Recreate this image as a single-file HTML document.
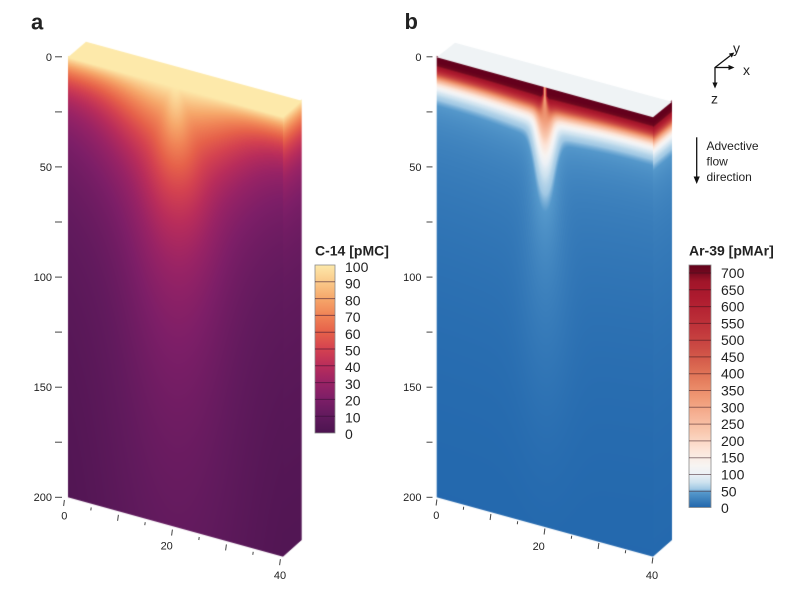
<!DOCTYPE html>
<html><head><meta charset="utf-8">
<style>
html,body{margin:0;padding:0;background:#fff;}
#wrap{position:relative;width:800px;height:600px;overflow:hidden;background:#fff;}
#wrap svg,#wrap canvas{position:absolute;left:0;top:0;}
text{font-family:"Liberation Sans",Arial,sans-serif;fill:#222;}
</style></head><body>
<div id="wrap">
<svg width="800" height="600" viewBox="0 0 800 600">
<defs>
<linearGradient id="ga" x1="0" y1="0" x2="0" y2="1">
<stop offset="0" stop-color="#fde9aa"/><stop offset="0.05" stop-color="#f0844f"/><stop offset="0.12" stop-color="#9b2364"/><stop offset="0.35" stop-color="#5e1a5c"/><stop offset="1" stop-color="#4c1551"/>
</linearGradient>
<linearGradient id="gb" x1="0" y1="0" x2="0" y2="1">
<stop offset="0" stop-color="#6e0620"/><stop offset="0.03" stop-color="#d6604d"/><stop offset="0.07" stop-color="#f7f4f2"/><stop offset="0.1" stop-color="#6fa8d3"/><stop offset="0.35" stop-color="#3878b8"/><stop offset="1" stop-color="#2a6aaf"/>
</linearGradient>
<linearGradient id="cbA" x1="0" y1="0" x2="0" y2="1">
<stop offset="0" stop-color="rgb(253,233,170)"/><stop offset="0.1" stop-color="rgb(250,201,138)"/><stop offset="0.2" stop-color="rgb(246,167,106)"/><stop offset="0.3" stop-color="rgb(240,131,86)"/><stop offset="0.4" stop-color="rgb(230,97,74)"/><stop offset="0.5" stop-color="rgb(212,66,80)"/><stop offset="0.6" stop-color="rgb(185,45,91)"/><stop offset="0.7" stop-color="rgb(153,35,101)"/><stop offset="0.8" stop-color="rgb(124,30,103)"/><stop offset="0.9" stop-color="rgb(97,26,93)"/><stop offset="1" stop-color="rgb(76,20,80)"/>
</linearGradient>
<linearGradient id="cbB" x1="0" y1="0" x2="0" y2="1">
<stop offset="0" stop-color="rgb(100,2,28)"/><stop offset="0.026" stop-color="rgb(110,8,30)"/><stop offset="0.0674" stop-color="rgb(160,21,41)"/><stop offset="0.1365" stop-color="rgb(174,27,47)"/><stop offset="0.2056" stop-color="rgb(184,41,53)"/><stop offset="0.2747" stop-color="rgb(194,56,60)"/><stop offset="0.3437" stop-color="rgb(204,76,68)"/><stop offset="0.4128" stop-color="rgb(217,101,79)"/><stop offset="0.4819" stop-color="rgb(230,128,95)"/><stop offset="0.551" stop-color="rgb(240,154,118)"/><stop offset="0.62" stop-color="rgb(246,178,149)"/><stop offset="0.689" stop-color="rgb(249,201,176)"/><stop offset="0.758" stop-color="rgb(253,227,214)"/><stop offset="0.827" stop-color="rgb(247,244,242)"/><stop offset="0.862" stop-color="rgb(236,241,246)"/><stop offset="0.896" stop-color="rgb(205,226,239)"/><stop offset="0.924" stop-color="rgb(160,200,228)"/><stop offset="0.938" stop-color="rgb(85,152,203)"/><stop offset="1" stop-color="rgb(33,102,172)"/>
</linearGradient>
</defs>

<g id="fb">
<polygon points="68,57.3 283,117 283,556.7 68,497.3" fill="url(#ga)"/>
<polygon points="283,117 301.7,100.7 301.7,540 283,556.7" fill="url(#ga)"/>
<polygon points="68,57.3 86,41.7 301.7,100.7 283,117" fill="#fde9aa"/>
<polygon points="436.7,57.3 653,117.3 653,556.7 436.7,497.3" fill="url(#gb)"/>
<polygon points="653,117.3 672,101.7 672,540 653,556.7" fill="url(#gb)"/>
<polygon points="436.7,57.3 455,42.7 672,101.7 653,117.3" fill="#eff3f5"/>
</g>

<text x="31" y="29.3" font-size="22" font-weight="bold">a</text>
<text x="404.5" y="29" font-size="22" font-weight="bold">b</text>

<g stroke="#444" stroke-width="1">
<line x1="55" y1="56.8" x2="62" y2="56.8"/><line x1="55" y1="111.9" x2="62" y2="111.9"/><line x1="55" y1="166.9" x2="62" y2="166.9"/><line x1="55" y1="222" x2="62" y2="222"/><line x1="55" y1="277.1" x2="62" y2="277.1"/><line x1="55" y1="332.1" x2="62" y2="332.1"/><line x1="55" y1="387.2" x2="62" y2="387.2"/><line x1="55" y1="442.2" x2="62" y2="442.2"/><line x1="55" y1="497.3" x2="62" y2="497.3"/>
<line x1="426.5" y1="56.8" x2="432.5" y2="56.8"/><line x1="426.5" y1="111.9" x2="432.5" y2="111.9"/><line x1="426.5" y1="166.9" x2="432.5" y2="166.9"/><line x1="426.5" y1="222" x2="432.5" y2="222"/><line x1="426.5" y1="277.1" x2="432.5" y2="277.1"/><line x1="426.5" y1="332.1" x2="432.5" y2="332.1"/><line x1="426.5" y1="387.2" x2="432.5" y2="387.2"/><line x1="426.5" y1="442.2" x2="432.5" y2="442.2"/><line x1="426.5" y1="497.3" x2="432.5" y2="497.3"/>
</g>
<g font-size="11" text-anchor="end">
<text x="52" y="60.8">0</text><text x="52" y="170.9">50</text><text x="52" y="281">100</text><text x="52" y="391">150</text><text x="52" y="501.2">200</text>
<text x="421.5" y="60.8">0</text><text x="421.5" y="170.9">50</text><text x="421.5" y="281">100</text><text x="421.5" y="391">150</text><text x="421.5" y="501.2">200</text>
</g>

<g stroke="#444" stroke-width="1">
<line x1="64.4" y1="500" x2="63.6" y2="506"/>
<line x1="91.2" y1="507.4" x2="90.8" y2="510.4"/>
<line x1="118.4" y1="514.8" x2="117.6" y2="520.8"/>
<line x1="145.2" y1="522.2" x2="144.8" y2="525.2"/>
<line x1="172.4" y1="529.6" x2="171.6" y2="535.6"/>
<line x1="199.2" y1="537" x2="198.8" y2="540"/>
<line x1="226.4" y1="544.4" x2="225.6" y2="550.4"/>
<line x1="253.2" y1="551.8" x2="252.8" y2="554.8"/>
<line x1="280.4" y1="559.2" x2="279.6" y2="565.2"/>
<line x1="436.9" y1="499.5" x2="436.1" y2="505.5"/>
<line x1="463.7" y1="506.75" x2="463.3" y2="509.75"/>
<line x1="490.9" y1="514" x2="490.1" y2="520"/>
<line x1="517.7" y1="521.25" x2="517.3" y2="524.25"/>
<line x1="544.9" y1="528.5" x2="544.1" y2="534.5"/>
<line x1="571.7" y1="535.75" x2="571.3" y2="538.75"/>
<line x1="598.9" y1="543" x2="598.1" y2="549"/>
<line x1="625.7" y1="550.25" x2="625.3" y2="553.25"/>
<line x1="652.9" y1="557.5" x2="652.1" y2="563.5"/>
</g>
<g font-size="11" text-anchor="middle">
<text x="64.3" y="519.5">0</text><text x="166.7" y="549.5">20</text><text x="280" y="579">40</text>
<text x="436.3" y="519">0</text><text x="538.7" y="550">20</text><text x="652" y="579">40</text>
</g>

<text x="315" y="255.5" font-size="14" font-weight="bold">C-14 [pMC]</text>
<rect x="315" y="265" width="20" height="168" fill="url(#cbA)" stroke="#8a8a8a" stroke-width="0.8"/>
<g stroke="rgba(50,15,50,0.55)" stroke-width="1">
<line x1="315" y1="281.8" x2="335" y2="281.8"/><line x1="315" y1="298.6" x2="335" y2="298.6"/><line x1="315" y1="315.4" x2="335" y2="315.4"/><line x1="315" y1="332.2" x2="335" y2="332.2"/><line x1="315" y1="349" x2="335" y2="349"/><line x1="315" y1="365.8" x2="335" y2="365.8"/><line x1="315" y1="382.6" x2="335" y2="382.6"/><line x1="315" y1="399.4" x2="335" y2="399.4"/><line x1="315" y1="416.2" x2="335" y2="416.2"/>
</g>
<g font-size="14">
<text x="345" y="272">100</text><text x="345" y="288.7">90</text><text x="345" y="305.4">80</text><text x="345" y="322.1">70</text><text x="345" y="338.8">60</text><text x="345" y="355.5">50</text><text x="345" y="372.2">40</text><text x="345" y="388.9">30</text><text x="345" y="405.6">20</text><text x="345" y="422.3">10</text><text x="345" y="439">0</text>
</g>

<text x="689" y="255.5" font-size="14" font-weight="bold">Ar-39 [pMAr]</text>
<rect x="689" y="265" width="22" height="242.5" fill="url(#cbB)" stroke="#8a8a8a" stroke-width="0.8"/>
<g stroke="rgba(50,15,25,0.5)" stroke-width="1">
<line x1="689" y1="273" x2="711" y2="273"/><line x1="689" y1="289.8" x2="711" y2="289.8"/><line x1="689" y1="306.6" x2="711" y2="306.6"/><line x1="689" y1="323.4" x2="711" y2="323.4"/><line x1="689" y1="340.2" x2="711" y2="340.2"/><line x1="689" y1="356.9" x2="711" y2="356.9"/><line x1="689" y1="373.7" x2="711" y2="373.7"/><line x1="689" y1="390.5" x2="711" y2="390.5"/><line x1="689" y1="407.3" x2="711" y2="407.3"/><line x1="689" y1="424.1" x2="711" y2="424.1"/><line x1="689" y1="440.9" x2="711" y2="440.9"/><line x1="689" y1="457.7" x2="711" y2="457.7"/><line x1="689" y1="474.5" x2="711" y2="474.5"/><line x1="689" y1="491.3" x2="711" y2="491.3"/>
</g>
<g font-size="14">
<text x="721" y="278">700</text><text x="721" y="294.8">650</text><text x="721" y="311.6">600</text><text x="721" y="328.4">550</text><text x="721" y="345.2">500</text><text x="721" y="361.9">450</text><text x="721" y="378.7">400</text><text x="721" y="395.5">350</text><text x="721" y="412.3">300</text><text x="721" y="429.1">250</text><text x="721" y="445.9">200</text><text x="721" y="462.7">150</text><text x="721" y="479.5">100</text><text x="721" y="496.3">50</text><text x="721" y="513">0</text>
</g>

<g stroke="#111" stroke-width="1.3" fill="none">
<line x1="715" y1="67.5" x2="730.3" y2="55.6"/>
<line x1="715" y1="67.5" x2="729" y2="67.5"/>
<line x1="715" y1="67" x2="715" y2="83"/>
<line x1="696.7" y1="137.3" x2="696.7" y2="177"/>
</g>
<g fill="#111">
<polygon points="734.3,52.5 731.8,57.6 728.8,53.6"/>
<polygon points="734.5,67.5 728.5,64.9 728.5,70.1"/>
<polygon points="715,88.5 712.4,82.5 717.6,82.5"/>
<polygon points="696.7,184 693.6,176.5 699.8,176.5"/>
</g>
<g font-size="14">
<text x="733" y="53">y</text><text x="743" y="75">x</text><text x="711" y="103.3">z</text>
</g>
<g font-size="12">
<text x="706.5" y="150">Advective</text><text x="706.5" y="165.5">flow</text><text x="706.5" y="181">direction</text>
</g>
</svg>
<canvas id="c" width="800" height="600"></canvas>
</div>
<script>
(function(){
var cv=document.getElementById('c'); if(!cv||!cv.getContext) return;
var ctx=cv.getContext('2d'); if(!ctx) return;
var W=800,H=600,img=ctx.createImageData(W,H),D=img.data;
function cmap(st){return function(v){var n=st.length;if(v<=st[0][0])return st[0][1];if(v>=st[n-1][0])return st[n-1][1];
for(var i=1;i<n;i++){if(v<=st[i][0]){var a=st[i-1],b=st[i],t=(v-a[0])/(b[0]-a[0]);
return [a[1][0]+(b[1][0]-a[1][0])*t,a[1][1]+(b[1][1]-a[1][1])*t,a[1][2]+(b[1][2]-a[1][2])*t];}}return st[n-1][1];};}
var c14=cmap([[0,[76,20,80]],[10,[97,26,93]],[20,[124,30,103]],[30,[153,35,101]],[40,[185,45,91]],[50,[212,66,80]],[60,[230,97,74]],[70,[240,131,86]],[80,[246,167,106]],[90,[250,201,138]],[100,[253,233,170]]]);
var ar=cmap([[0,[33,102,172]],[45,[85,152,203]],[55,[160,200,228]],[75,[205,226,239]],[100,[236,241,246]],[125,[247,244,242]],[175,[253,227,214]],[225,[249,201,176]],[275,[246,178,149]],[325,[240,154,118]],[375,[230,128,95]],[425,[217,101,79]],[475,[204,76,68]],[525,[194,56,60]],[575,[184,41,53]],[625,[174,27,47]],[675,[160,21,41]],[705,[110,8,30]],[750,[100,0,28]]]);
function face(x0,x1,t0,t1,b0,b1,fn,ext){
  var xs=Math.floor(x0),xe=Math.ceil(x1);
  for(var X=xs;X<xe;X++){
    var cx0=Math.max(X,x0),cx1=Math.min(X+1,x1),cov=cx1-cx0; if(cov<=0)continue;
    var xc=(cx0+cx1)/2,f=(xc-x0)/(x1-x0);
    var top=t0+(t1-t0)*f,bot=b0+(b1-b0)*f,hgt=bot-top,dtop=top-ext;
    for(var Y=Math.floor(dtop);Y<Math.ceil(bot);Y++){
      if(Y<0||Y>=H)continue;
      var cy=Math.min(Y+1,bot)-Math.max(Y,dtop); if(cy<=0)continue;
      var z=(Y+0.5-top)/hgt*440; if(z<0)z=0; if(z>440)z=440;
      var c=fn(f,z),a=cov*cy,i=(Y*W+X)*4,ea=D[i+3]/255,na=a+ea*(1-a);
      if(na<=0)continue;
      D[i]=(c[0]*a+D[i]*ea*(1-a))/na;
      D[i+1]=(c[1]*a+D[i+1]*ea*(1-a))/na;
      D[i+2]=(c[2]*a+D[i+2]*ea*(1-a))/na;
      D[i+3]=na*255;
    }
  }
}
/* panel a */
function Cedge(d){return 100*(0.78*Math.exp(-d/30)+0.22*Math.exp(-d/170));}
function fa(f,z){var du=f*215-107.5,w=2+0.15*z,w2=30+25*(1-Math.exp(-z/80)),w3=15+0.08*z;
  var A=3.2*Math.exp(-z/65),A2=1.7*Math.exp(-z/900),A3=1.3*(1-Math.exp(-z/150));
  var G=Math.exp(-du*du/(2*w*w)),G2=Math.exp(-du*du/(2*w2*w2)),G3=Math.exp(-du*du/(2*w3*w3));
  var d=z/(1+A*G+A2*G2+A3*G3); return c14(Cedge(d));}
function fas(f,z){return c14(Cedge(z*0.8));}
/* panel b */
function Aedge(d){return 640/(1+Math.exp((d-19)/5))+130*Math.exp(-d/22)+40*Math.exp(-d/150);}
function fbf(f,z){var du=f*216.3-108.1;
  var w=3+0.1*z/(1+z/300),w2=30+0.1*z;
  var B=0.033*z*z/(z+20)*Math.exp(-z/180)*Math.exp(-(z/300)*(z/300));
  var G=Math.exp(-du*du/(2*w*w)),G2=Math.exp(-du*du/(2*w2*w2));
  var d=z/(1+B*G+0.15*Math.exp(-z/200)*G2);
  var v=Aedge(d);
  var wl=1.0+0.15*Math.max(0,z-8),Gl=Math.exp(-du*du/(2*wl*wl))*Math.exp(-(z/40)*(z/40));
  var apl=300-1.5*z; if(apl<0)apl=0;
  v=(1-Gl)*v+Gl*apl;
  return ar(v);}
function fbs(f,z){return ar(Aedge(z*0.9));}
face(68,283,57.3,117,497.3,556.7,fa,1.5);
face(283,301.7,117,100.7,556.7,540,fas,1.5);
face(436.7,653,57.3,117.3,497.3,556.7,fbf,1.5);
face(653,672,117.3,101.7,556.7,540,fbs,1.5);
ctx.putImageData(img,0,0);
function poly(p,col){ctx.beginPath();ctx.moveTo(p[0],p[1]);for(var i=2;i<p.length;i+=2)ctx.lineTo(p[i],p[i+1]);ctx.closePath();ctx.fillStyle=col;ctx.fill();}
poly([68,57.3,86,41.7,301.7,100.7,283,117],'#fde9aa');
poly([436.7,57.3,455,42.7,672,101.7,653,117.3],'#eff3f5');
var fb=document.getElementById('fb'); if(fb) fb.style.display='none';
})();
</script>
</body></html>
